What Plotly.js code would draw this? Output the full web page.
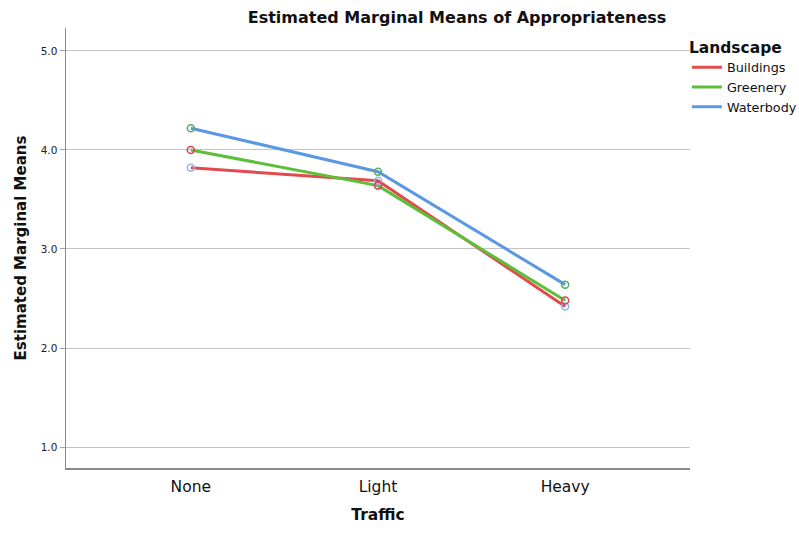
<!DOCTYPE html>
<html>
<head>
<meta charset="utf-8">
<script src="https://cdn.plot.ly/plotly-3.0.1.min.js"></script>
<style>html,body{margin:0;padding:0;background:#fff;}#chart{width:799px;height:533px;}</style>
</head>
<body>
<div id="chart"></div>
<script>
const categories = ["None", "Light", "Heavy"];
const seriesNames = ["Buildings", "Greenery", "Waterbody"];
const buildings = [3.82, 3.69, 2.42];
const greenery = [4.00, 3.64, 2.48];
const waterbody = [4.22, 3.78, 2.64];
const yTickVals = [1, 2, 3, 4, 5];
const yTickText = ["1.0", "2.0", "3.0", "4.0", "5.0"];

const lineColors = ["#e34a4e", "#5cbf3a", "#5a98e3"];
const markerColors = ["#8fb8e8", "#d9445a", "#5aa86a"];
const values = [buildings, greenery, waterbody];
const FONT = "DejaVu Sans, Verdana, sans-serif";

const lineTraces = values.map((v, i) => ({
  type: "scatter",
  mode: "lines",
  name: seriesNames[i],
  x: categories,
  y: v,
  line: {color: lineColors[i], width: 3},
  hoverinfo: "skip"
}));
const markerTraces = values.map((v, i) => ({
  type: "scatter",
  mode: "markers",
  name: seriesNames[i],
  showlegend: false,
  x: categories,
  y: v,
  marker: {symbol: "circle-open", size: 7, color: markerColors[i], line: {color: markerColors[i], width: 1.5}},
  hoverinfo: "skip"
}));

const layout = {
  width: 799, height: 533,
  margin: {l: 66, r: 109, t: 28, b: 65, autoexpand: false},
  paper_bgcolor: "#ffffff",
  plot_bgcolor: "#ffffff",
  font: {family: FONT, color: "#222"},
  title: {
    text: "<b>Estimated Marginal Means of Appropriateness</b>",
    font: {family: FONT, size: 16, color: "#111"},
    x: 0.572, xref: "container", xanchor: "center",
    y: 0.968, yref: "container", yanchor: "middle"
  },
  xaxis: {
    type: "category",
    categoryorder: "array", categoryarray: categories,
    range: [-0.667, 2.667],
    showgrid: false, zeroline: false,
    showline: true, linecolor: "#8a8a8a", linewidth: 1.5,
    ticks: "", tickfont: {family: FONT, size: 15.5, color: "#111"},
    ticklabelstandoff: 4,
    title: {text: "<b>Traffic</b>", font: {family: FONT, size: 15.5, color: "#111"}, standoff: 14}
  },
  yaxis: {
    range: [0.788, 5.232],
    tickvals: yTickVals, ticktext: yTickText,
    showgrid: true, gridcolor: "#c4c4c4", gridwidth: 1,
    zeroline: false,
    showline: true, linecolor: "#8a8a8a", linewidth: 1.5,
    ticks: "outside", ticklen: 5, tickcolor: "#a0a0a0",
    tickfont: {family: FONT, size: 10.5, color: "#222"},
    title: {text: "<b>Estimated Marginal Means</b>", font: {family: FONT, size: 15, color: "#111"}, standoff: 10}
  },
  legend: {
    x: 0.995, xanchor: "left", y: 0.99, yanchor: "top",
    title: {text: "<b>Landscape</b>", font: {family: FONT, size: 15.5, color: "#111"}},
    font: {family: FONT, size: 12.8, color: "#111"},
    bgcolor: "rgba(0,0,0,0)",
    itemwidth: 30,
    tracegroupgap: 0
  },
  showlegend: true
};

Plotly.newPlot("chart", lineTraces.concat(markerTraces), layout, {displayModeBar: false, staticPlot: true});
</script>
</body>
</html>
